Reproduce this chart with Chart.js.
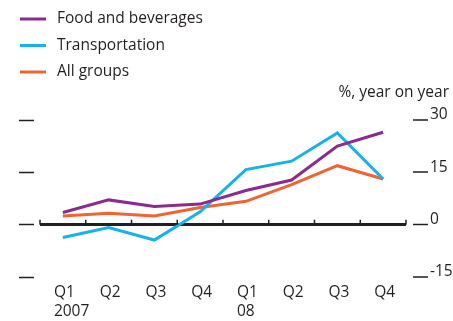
<!DOCTYPE html>
<html>
<head>
<meta charset="utf-8">
<script src="https://cdn.jsdelivr.net/npm/chart.js@4.4.1/dist/chart.umd.min.js"></script>
<style>
  html, body { margin: 0; padding: 0; background: #fff; }
  #wrap { width: 453px; height: 321px; position: relative; }
</style>
</head>
<body>
<div id="wrap"><canvas id="chart"></canvas></div>
<script>
// Consumer prices, % year on year
const QUARTERS = [['Q1', '2007'], 'Q2', 'Q3', 'Q4', ['Q1', '08'], 'Q2', 'Q3', 'Q4'];
const FOOD = [3.5, 7.1, 5.2, 5.9, 9.8, 12.8, 22.5, 26.5];
const TRANSPORT = [-3.7, -0.8, -4.4, 3.7, 15.8, 18.2, 26.3, 13.1];
const ALL_GROUPS = [2.5, 3.3, 2.5, 4.9, 6.7, 11.5, 16.9, 13.1];
const Y_TICKS = [-15, 0, 15, 30];
const UNIT_LABEL = '%, year on year';

const INK = '#231f20';
const FONT = "'Open Sans'";

// legend at top-left, unit label, and little ticks on the zero line
const decorations = {
  id: 'decorations',
  afterDatasetsDraw(chart) {
    const { ctx, scales } = chart;
    const xs = scales.x, ys = scales.y;
    const half = (xs.getPixelForValue(1) - xs.getPixelForValue(0)) / 2;
    const y0 = ys.getPixelForValue(0);
    ctx.save();
    ctx.strokeStyle = INK;
    ctx.lineWidth = 1.5;
    for (let i = 0; i <= QUARTERS.length; i++) {
      const px = xs.getPixelForValue(i) - half;
      ctx.beginPath();
      ctx.moveTo(px, y0);
      ctx.lineTo(px, y0 - 5);
      ctx.stroke();
    }
    ctx.restore();
  },
  afterDraw(chart) {
    const { ctx } = chart;
    ctx.save();
    ctx.font = `15.5px ${FONT}`;
    ctx.fillStyle = INK;
    ctx.textBaseline = 'middle';
    chart.data.datasets.forEach((ds, i) => {
      const y = 19 + i * 26.5;
      ctx.strokeStyle = ds.borderColor;
      ctx.lineWidth = 3;
      ctx.beginPath();
      ctx.moveTo(20, y);
      ctx.lineTo(46, y);
      ctx.stroke();
      ctx.fillText(ds.label, 57, y);
    });
    ctx.textAlign = 'right';
    ctx.textBaseline = 'alphabetic';
    ctx.fillText(UNIT_LABEL, 449, 96.5);
    ctx.restore();
  }
};

new Chart(document.getElementById('chart'), {
  type: 'line',
  data: {
    labels: QUARTERS,
    datasets: [
      { label: 'Food and beverages', data: FOOD, borderColor: '#8c2a8f' },
      { label: 'Transportation', data: TRANSPORT, borderColor: '#17b2e8' },
      { label: 'All groups', data: ALL_GROUPS, borderColor: '#f26330' },
    ]
  },
  options: {
    responsive: true,
    maintainAspectRatio: false,
    animation: false,
    layout: { padding: { top: 120, left: 19, right: 0, bottom: 0 } },
    elements: {
      line: { borderWidth: 3, tension: 0, fill: false },
      point: { radius: 0 }
    },
    plugins: {
      legend: { display: false },
      tooltip: { enabled: false }
    },
    scales: {
      x: {
        offset: true,
        grid: { display: false, drawTicks: false },
        border: { display: false },
        ticks: {
          color: INK,
          font: { family: FONT, size: 15.5, lineHeight: 1.25 },
          align: 'start',
          labelOffset: -9,
          padding: 6,
          maxRotation: 0,
          autoSkip: false,
        },
        afterFit(scale) { scale.height = 44; }
      },
      y: {
        position: 'right',
        min: -15,
        max: 30,
        afterBuildTicks(scale) { scale.ticks = Y_TICKS.map(v => ({ value: v })); },
        border: { display: false },
        grid: {
          drawOnChartArea: true,
          color: c => c.tick && c.tick.value === 0 ? INK : 'rgba(0,0,0,0)',
          lineWidth: c => c.tick && c.tick.value === 0 ? 3 : 0,
          drawTicks: true,
          tickLength: 22,
          tickWidth: 1.5,
          tickColor: INK,
          tickBorderDash: [0, 7, 15, 30],
        },
        ticks: {
          color: INK,
          font: { family: FONT, size: 15.5 },
          padding: 2,
          labelOffset: -5,
        },
        afterFit(scale) { scale.width = 47; }
      },
      yl: {
        position: 'left',
        min: -15,
        max: 30,
        afterBuildTicks(scale) { scale.ticks = Y_TICKS.map(v => ({ value: v })); },
        border: { display: false },
        grid: {
          drawOnChartArea: false,
          drawTicks: true,
          tickLength: 21,
          tickWidth: 1.5,
          tickColor: INK,
          tickBorderDash: [15, 30],
        },
        ticks: { display: false },
        afterFit(scale) { scale.width = 21; }
      }
    }
  },
  plugins: [decorations]
});
</script>
</body>
</html>
